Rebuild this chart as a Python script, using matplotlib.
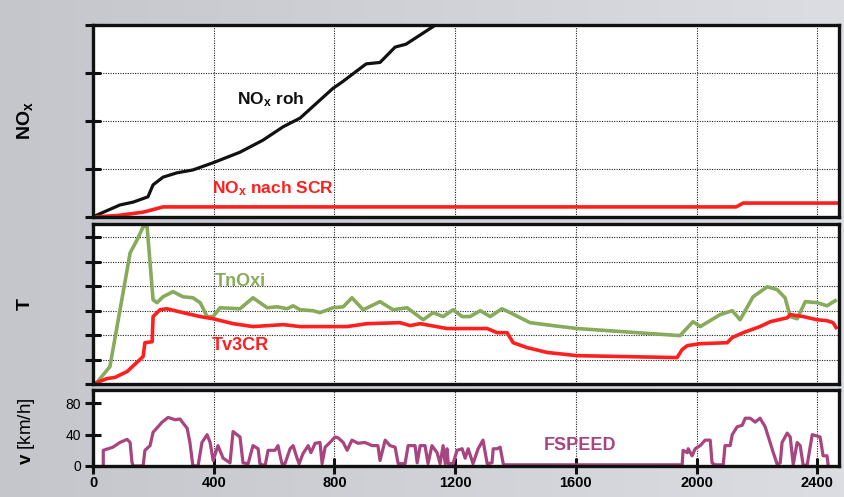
import numpy as np
import matplotlib
matplotlib.use("Agg")
import matplotlib.pyplot as plt

plt.rcParams['font.family'] = ['Liberation Sans', 'DejaVu Sans']
plt.rcParams['mathtext.fontset'] = 'custom'
plt.rcParams['mathtext.rm'] = 'Liberation Sans'
plt.rcParams['mathtext.bf'] = 'Liberation Sans:bold'
plt.rcParams['mathtext.default'] = 'bf'

# NOx curves (top panel)
nox_roh_t = [0, 13, 89, 133, 182, 199, 232, 278, 331, 398, 487, 563, 630, 686,
             795, 825, 905, 951, 1001, 1037, 1130, 1180]
nox_roh = [0, 0.04, 0.25, 0.31, 0.42, 0.67, 0.83, 0.92, 0.98, 1.13, 1.35, 1.60,
           1.88, 2.06, 2.68, 2.81, 3.19, 3.22, 3.54, 3.60, 3.98, 4.2]
nox_scr_t = [0, 80, 166, 232, 2131, 2154, 2472]
nox_scr = [0, 0.03, 0.10, 0.21, 0.21, 0.29, 0.29]

# temperatures (middle panel)
tnoxi_t = [0, 13, 40, 56, 123, 146, 166, 179, 199, 212, 232, 265, 298, 331, 355,
           378, 398, 421, 487, 530, 577, 610, 643, 663, 686, 729, 752, 795, 829,
           858, 895, 951, 994, 1041, 1094, 1127, 1160, 1193, 1223, 1249, 1283,
           1316, 1355, 1382, 1448, 1524, 1604, 1945, 1988, 2012, 2078, 2118,
           2144, 2187, 2234, 2267, 2293, 2310, 2333, 2360, 2399, 2432, 2459]
tnoxi = [0, 0.06, 0.47, 0.71, 5.37, 5.90, 6.43, 6.47, 3.45, 3.33, 3.57, 3.78,
         3.57, 3.53, 3.33, 2.76, 2.76, 3.12, 3.08, 3.53, 3.12, 3.16, 3.08, 3.20,
         3.04, 3.00, 2.92, 3.12, 3.16, 3.53, 3.04, 3.37, 3.04, 3.12, 2.63, 2.92,
         2.76, 3.04, 2.76, 2.76, 3.00, 2.76, 3.08, 2.92, 2.51, 2.39, 2.27, 1.98,
         2.55, 2.35, 2.84, 3.00, 2.63, 3.57, 3.98, 3.86, 3.53, 2.76, 2.67, 3.37,
         3.33, 3.20, 3.41]
tv3cr_t = [0, 13, 46, 73, 113, 166, 172, 196, 199, 222, 245, 298, 355, 398, 464,
           530, 630, 686, 752, 842, 908, 1017, 1051, 1084, 1173, 1306, 1339,
           1372, 1392, 1438, 1505, 1604, 1935, 1952, 1969, 2012, 2101, 2118,
           2154, 2210, 2244, 2300, 2310, 2353, 2399, 2432, 2452, 2462]
tv3cr = [0, 0.06, 0.22, 0.27, 0.51, 1.12, 1.69, 1.73, 2.76, 3.04, 3.08, 2.92,
         2.76, 2.67, 2.47, 2.35, 2.43, 2.35, 2.35, 2.35, 2.47, 2.51, 2.39, 2.47,
         2.27, 2.27, 2.10, 2.10, 1.69, 1.49, 1.29, 1.16, 1.08, 1.41, 1.57, 1.65,
         1.69, 1.90, 2.10, 2.35, 2.55, 2.71, 2.84, 2.76, 2.63, 2.59, 2.51, 2.31]

# vehicle speed (bottom panel)
fspeed_t = [34, 34, 50, 66, 89, 113, 123, 129, 133, 166, 172, 189, 199, 229, 249,
            272, 288, 312, 321, 331, 348, 361, 378, 388, 398, 414, 431, 454, 464,
            487, 497, 514, 530, 547, 553, 570, 580, 603, 613, 620, 626, 636, 653,
            663, 676, 683, 696, 713, 722, 736, 752, 759, 769, 785, 802, 812, 829,
            842, 858, 878, 901, 925, 944, 951, 968, 984, 1001, 1011, 1034, 1044,
            1067, 1074, 1084, 1100, 1110, 1123, 1140, 1150, 1160, 1167, 1173,
            1177, 1193, 1206, 1223, 1233, 1243, 1259, 1276, 1292, 1306, 1322,
            1326, 1339, 1349, 1359, 1365, 1952, 1955, 1969, 1972, 1985, 1995,
            2012, 2028, 2045, 2051, 2061, 2088, 2094, 2111, 2118, 2134, 2151,
            2161, 2177, 2194, 2210, 2227, 2254, 2267, 2277, 2283, 2300, 2310,
            2320, 2333, 2343, 2353, 2366, 2383, 2409, 2419, 2432, 2436]
fspeed = [0, 20, 22, 24, 30, 34, 30, 5, 0, 0, 20, 26, 43, 56, 62, 59, 60, 48, 30,
          0, 0, 30, 40, 30, 7, 26, 10, 4, 44, 37, 4, 3, 26, 22, 3, 0, 20, 20, 26,
          13, 3, 3, 22, 26, 10, 3, 16, 26, 17, 29, 30, 3, 24, 30, 37, 36, 30, 20,
          33, 29, 30, 26, 26, 7, 33, 26, 24, 3, 3, 26, 26, 4, 26, 26, 3, 26, 17,
          3, 26, 3, 22, 3, 3, 20, 22, 10, 22, 3, 22, 33, 3, 4, 22, 22, 24, 3, 1.5,
          1.5, 20, 17, 22, 13, 22, 26, 33, 33, 4, 1.5, 1.5, 26, 26, 40, 50, 52,
          61, 61, 56, 61, 50, 17, 2, 4, 30, 42, 37, 2, 30, 26, 1, 1, 40, 37, 13,
          13, 0]

x_ticks = [0, 400, 800, 1200, 1600, 2000, 2400]
speed_ticks = [0, 40, 80]

RED = '#ff1f1f'
GREEN = '#87ab5b'
PURPLE = '#a8447f'

fig = plt.figure(figsize=(8.44, 4.97), dpi=100)

# grey backdrop, a little lighter towards the right
bg = fig.add_axes([0, 0, 1, 1], zorder=-10)
grad = np.linspace(0, 1, 256)[None, :]
bg.imshow(grad, aspect='auto', cmap=matplotlib.colors.LinearSegmentedColormap.from_list(
    'bg', ['#c4c6cb', '#dcdde2']), extent=[0, 1, 0, 1])
bg.axis('off')

left, width = 0.1102, 0.884
ax1 = fig.add_axes([left, 0.5634, width, 0.3863])
ax2 = fig.add_axes([left, 0.2274, width, 0.3219])
ax3 = fig.add_axes([left, 0.0624, width, 0.1529])

for ax in (ax1, ax2, ax3):
    ax.set_facecolor('white')
    ax.set_xlim(0, 2472)
    ax.set_xticks(x_ticks)
    for sp in ax.spines.values():
        sp.set_linewidth(2.4)
        sp.set_color('#111111')
    ax.tick_params(axis='y', direction='inout', length=11, width=2.2,
                   color='#111111')
    ax.grid(True, axis='x', color='#222222', linestyle=(0, (1, 1.2)), lw=0.8)

for ax in (ax1, ax2):
    ax.tick_params(axis='x', length=0, labelbottom=False)
    ax.tick_params(axis='y', labelleft=False)
    ax.grid(True, axis='y', color='#222222', linestyle=(0, (1, 1.2)), lw=0.8)

# top panel: NOx
ax1.set_ylim(0, 4)
ax1.set_yticks([0, 1, 2, 3, 4])
ax1.plot(nox_roh_t, nox_roh, color='#111111', lw=2.3)
ax1.plot(nox_scr_t, nox_scr, color=RED, lw=2.6)
ax1.text(478, 2.45, r'NO$_{x}$ roh', fontsize=12.5, fontweight='bold',
         color='#111111', va='center')
ax1.text(395, 0.6, r'NO$_{x}$ nach SCR', fontsize=12.5, fontweight='bold',
         color=RED, va='center')
ax1.set_ylabel(r'NO$_{x}$', fontsize=14, fontweight='bold')
ax1.yaxis.set_label_coords(-0.078, 0.5)

# middle panel: temperatures
ax2.set_ylim(0, 6.55)
ax2.set_yticks([0, 1, 2, 3, 4, 5, 6])
ax2.plot(tnoxi_t, tnoxi, color=GREEN, lw=2.6)
ax2.plot(tv3cr_t, tv3cr, color=RED, lw=2.6)
ax2.text(405, 4.2, 'TnOxi', fontsize=13, fontweight='bold', color=GREEN,
         va='center')
ax2.text(395, 1.58, 'Tv3CR', fontsize=13, fontweight='bold', color=RED,
         va='center')
ax2.set_ylabel('T', fontsize=14, fontweight='bold')
ax2.yaxis.set_label_coords(-0.080, 0.5)

# bottom panel: speed
ax3.set_ylim(0, 97)
ax3.set_yticks(speed_ticks)
ax3.set_yticklabels([str(v) for v in speed_ticks], fontsize=10)
ax3.tick_params(axis='y', pad=3)
ax3.tick_params(axis='x', direction='inout', length=12, width=2.2,
                color='#111111', pad=1)
ax3.set_xticklabels([str(v) for v in x_ticks], fontsize=10.5, fontweight='bold')
ax3.plot(fspeed_t, fspeed, color=PURPLE, lw=2.3)
ax3.text(1495, 26, 'FSPEED', fontsize=13, fontweight='bold', color=PURPLE,
         va='center')
ax3.set_ylabel(r'$v$ [km/h]', fontsize=13.5)
ax3.yaxis.set_label_coords(-0.075, 0.45)

fig.savefig('out.png', dpi=100)
